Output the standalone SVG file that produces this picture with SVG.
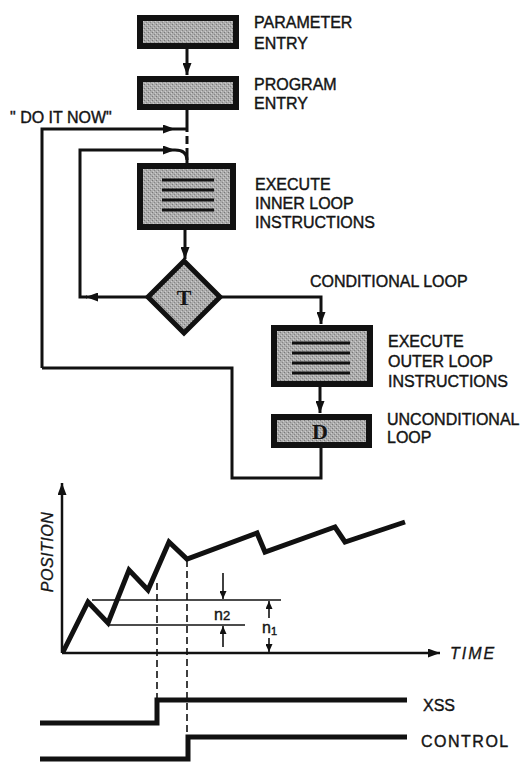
<svg xmlns="http://www.w3.org/2000/svg" width="525" height="762" viewBox="0 0 525 762">
<style>
.lbl{font-family:"Liberation Sans",Arial,sans-serif;font-size:16px;fill:#141414;stroke:#141414;stroke-width:0.4;}
.box{fill:url(#stip);stroke:#111;stroke-width:6;}
.ln{fill:none;stroke:#111;stroke-width:3;}
.bar{fill:none;stroke:#111;stroke-width:3;}
.thin{fill:none;stroke:#111;stroke-width:1.6;}
.dash{fill:none;stroke:#111;stroke-width:1.6;stroke-dasharray:7,4;}
.thick{fill:none;stroke:#111;stroke-width:5;stroke-linejoin:miter;}
.ser{font-family:"Liberation Serif","Times New Roman",serif;font-weight:bold;font-size:22px;fill:#141414;}
.it{font-family:"Liberation Sans",Arial,sans-serif;font-style:italic;font-size:16px;fill:#141414;stroke:#141414;stroke-width:0.3;}
</style>
<defs>
<pattern id="stip" width="4" height="4" patternUnits="userSpaceOnUse">
<rect width="4" height="4" fill="#acacac"/>
<rect x="0" y="0" width="1" height="1" fill="#787878"/>
<rect x="2" y="2" width="1" height="1" fill="#858585"/>
<rect x="3" y="1" width="1" height="1" fill="#cdcdcd"/>
<rect x="1" y="3" width="1" height="1" fill="#cdcdcd"/>
</pattern>
<marker id="ah" markerWidth="12" markerHeight="9" refX="12" refY="4.5" orient="auto" markerUnits="userSpaceOnUse">
<path d="M0,0 L12,4.5 L0,9 Z" fill="#111"/>
</marker>
<marker id="sa" markerWidth="8" markerHeight="7" refX="8" refY="3.5" orient="auto" markerUnits="userSpaceOnUse">
<path d="M0,0 L8,3.5 L0,7 Z" fill="#111"/>
</marker>
</defs>
<rect width="525" height="762" fill="#fff"/>

<g id="connectors">
<path class="ln" d="M187,49 V75" marker-end="url(#ah)"/>
<path class="ln" d="M187,110 V124"/>
<path class="ln" d="M187,124 V148" stroke-dasharray="8,4"/>
<path class="ln" d="M187,148 V164"/>
<path class="ln" d="M42,368 V129 H175" marker-end="url(#ah)"/>
<path class="ln" d="M175,129 H187"/>
<path class="ln" d="M147,297 H86" marker-end="url(#ah)"/>
<path class="ln" d="M87,297 H80 V150 H175" marker-end="url(#ah)"/>
<path class="ln" d="M175,150 Q187,150 187,160"/>
<path class="ln" d="M185,230 V259" marker-end="url(#ah)"/>
<path class="ln" d="M221,297 H321 V324" marker-end="url(#ah)"/>
<path class="ln" d="M320,387 V413" marker-end="url(#ah)"/>
<path class="ln" d="M321,448 V478 H232 V368 H42"/>
</g>

<g id="param-entry">
<rect class="box" x="140" y="18" width="96" height="28"/>
<text class="lbl" x="254" y="28">PARAMETER</text>
<text class="lbl" x="254" y="49">ENTRY</text>
</g>

<g id="program-entry">
<rect class="box" x="140" y="79" width="96" height="28"/>
<text class="lbl" x="254" y="90">PROGRAM</text>
<text class="lbl" x="254" y="109">ENTRY</text>
</g>

<g id="do-it-now">
<text class="lbl" x="10" y="123">" DO IT NOW"</text>
</g>

<g id="inner-loop">
<rect class="box" x="140" y="166" width="93" height="61"/>
<path class="bar" d="M162,180 H214 M162,190 H214 M162,200 H214 M162,210 H214"/>
<text class="lbl" x="255" y="190">EXECUTE</text>
<text class="lbl" x="255" y="209">INNER LOOP</text>
<text class="lbl" x="255" y="228">INSTRUCTIONS</text>
</g>

<g id="test">
<polygon points="184,261 220,297 184,333 148,297" fill="url(#stip)" stroke="#111" stroke-width="5" stroke-linejoin="miter"/>
<text class="ser" x="184" y="305" text-anchor="middle">T</text>
<text class="lbl" x="310" y="287">CONDITIONAL LOOP</text>
</g>

<g id="outer-loop">
<rect class="box" x="274" y="328" width="96" height="56"/>
<path class="bar" d="M292,343 H350 M292,353 H350 M292,363 H350 M292,373 H350"/>
<text class="lbl" x="388" y="347">EXECUTE</text>
<text class="lbl" x="388" y="367">OUTER LOOP</text>
<text class="lbl" x="388" y="387">INSTRUCTIONS</text>
</g>

<g id="unconditional">
<rect class="box" x="274" y="417" width="95" height="28"/>
<text class="ser" x="320" y="439" text-anchor="middle">D</text>
<text class="lbl" x="387" y="425">UNCONDITIONAL</text>
<text class="lbl" x="387" y="443">LOOP</text>
</g>

<g id="graph">
<path d="M62,653 V483" fill="none" stroke="#111" stroke-width="2.5" marker-end="url(#ah)"/>
<path d="M62,653 H440" fill="none" stroke="#111" stroke-width="2.5" marker-end="url(#ah)"/>
<text class="it" transform="translate(53,552) rotate(-90)" text-anchor="middle" font-size="17" letter-spacing="0.5">POSITION</text>
<text class="it" x="450" y="659" font-size="17" letter-spacing="2">TIME</text>
<path class="thin" d="M92,600 H281"/>
<path class="thin" d="M108,625 H245"/>
<polyline class="thick" points="63,652 88,602 108,623 129,570 148,590 169,542 187,559 257,533 265,552 335,527 345,542 405,522"/>
<path class="dash" d="M157,583 V700"/>
<path class="dash" d="M187,560 V737"/>
<path class="thin" d="M223,573 V599" marker-end="url(#sa)"/>
<path class="thin" d="M223,647 V626" marker-end="url(#sa)"/>
<path class="thin" d="M269,618 V601" marker-end="url(#sa)"/>
<path class="thin" d="M269,638 V652" marker-end="url(#sa)"/>
<text class="lbl" x="214" y="620" font-size="18">n<tspan font-size="13">2</tspan></text>
<text class="lbl" x="262" y="633" font-size="18">n<tspan font-size="11" dy="2">1</tspan></text>
</g>

<g id="signals">
<path class="thick" d="M40,723 H157 V700 H407"/>
<path class="thick" d="M40,759 H188 V737 H407"/>
<text class="lbl" x="423" y="711">XSS</text>
<text class="lbl" x="421" y="747" letter-spacing="1.5">CONTROL</text>
</g>
</svg>
